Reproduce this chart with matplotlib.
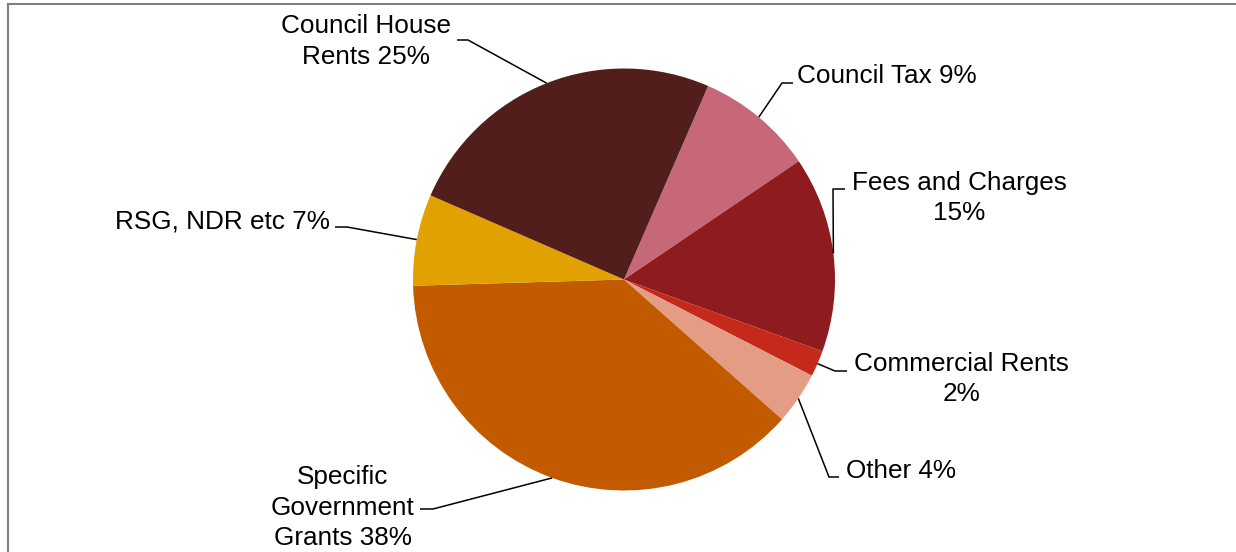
import numpy as np
import matplotlib
matplotlib.use('Agg')
from matplotlib import pyplot as plt
from matplotlib.patches import Rectangle

plt.rcParams['font.family'] = ['Liberation Sans', 'DejaVu Sans']

W, H = 1236, 552

# slices, clockwise from Council Tax
names = ['Council Tax', 'Fees and Charges', 'Commercial Rents', 'Other',
         'Specific Government Grants', 'RSG, NDR etc', 'Council House Rents']
values = [9, 15, 2, 4, 38, 7, 25]
# how each label is broken into lines ({} = percentage)
label_fmt = ['Council Tax {}%', 'Fees and Charges\n{}%', 'Commercial Rents\n{}%',
             'Other {}%', 'Specific\nGovernment\nGrants {}%', 'RSG, NDR etc {}%',
             'Council House\nRents {}%']
colors = ['#C66877', '#8E1B1E', '#C4291C', '#E49C85', '#C25B00', '#E1A100', '#521E1C']

# label layout in pixels from top-left: elbow x, elbow y, line end x, text x, last baseline y, ha
layout = [
    (782, 83, 793, 797, 83, 'left'),
    (833, 189, 845, 959, 220.5, 'center'),
    (835, 371, 847, 961, 401, 'center'),
    (829, 477, 839, 846, 478, 'left'),
    (433, 509, 420, 343, 545, 'center'),
    (347, 227, 335, 330, 228, 'right'),
    (468, 40, 457, 366, 63.5, 'center'),
]

cx, cy, r = 624, 279.5, 211


def py(y):
    return H - y


fig = plt.figure(figsize=(W / 100, H / 100), dpi=100)
ax = fig.add_axes([0, 0, 1, 1])

wedges, _ = ax.pie(values, colors=colors, startangle=66.5, counterclock=False,
                   center=(cx, py(cy)), radius=r, wedgeprops=dict(linewidth=0))
ax.set_xlim(0, W)
ax.set_ylim(0, H)
ax.axis('off')

for w, v, fmt, (ex, ey, lx, tx, ty, ha) in zip(wedges, values, label_fmt, layout):
    mid = np.deg2rad((w.theta1 + w.theta2) / 2)
    px = cx + r * np.cos(mid)
    pyy = py(cy) + r * np.sin(mid)
    ax.plot([px, ex, lx], [pyy, py(ey), py(ey)], color='black', lw=1.1,
            solid_capstyle='butt', zorder=3)
    ax.text(tx, py(ty), fmt.format(v), fontsize=18.8, ha=ha, va='baseline',
            multialignment='center', linespacing=1.34, color='black')

# chart area border (cut off at right and bottom)
ax.add_patch(Rectangle((8, -20), W + 20, py(4) + 20, fill=False,
                       edgecolor='#7F7F7F', lw=1.5))

fig.savefig('out.png', dpi=100)
